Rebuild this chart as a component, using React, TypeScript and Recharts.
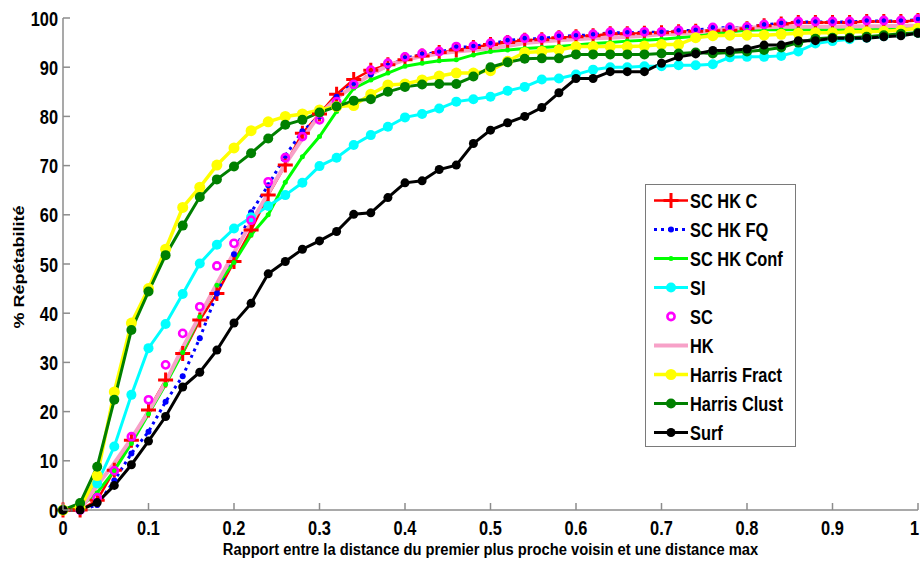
import React from "react";
import { LineChart, Line, XAxis, YAxis, Legend } from "recharts";

// distance ratio (x) sampled every 0.02
const ratios = [
  0, 0.02, 0.04, 0.06, 0.08, 0.1, 0.12, 0.14, 0.16, 0.18, 0.2, 0.22, 0.24, 0.26, 0.28, 0.3, 0.32,
  0.34, 0.36, 0.38, 0.4, 0.42, 0.44, 0.46, 0.48, 0.5, 0.52, 0.54, 0.56, 0.58, 0.6, 0.62, 0.64,
  0.66, 0.68, 0.7, 0.72, 0.74, 0.76, 0.78, 0.8, 0.82, 0.84, 0.86, 0.88, 0.9, 0.92, 0.94, 0.96,
  0.98, 1,
];

const scHkC = [
  0, 0, 2, 8.1, 14.2, 20.3, 26.4, 31.8, 38.6, 44, 50.5, 56.9, 64, 70.1, 76.6, 80.5, 84.5, 87.5,
  89.4, 90.5, 91.5, 92.3, 93, 93.5, 94, 94.6, 95, 95.5, 95.6, 96, 96.2, 96.4, 96.8, 96.8, 96.9, 97,
  97.2, 97.3, 97.4, 97.5, 97.8, 98.4, 98.8, 99.1, 99.1, 99.1, 99.1, 99.3, 99.3, 99.3, 99.5,
];
const scHkFq = [
  0, 0, 1, 6, 11.5, 15.9, 22, 27.2, 34.9, 44, 52, 60.5, 66, 72, 77, 80, 84, 86.8, 88.5, 90.3, 91.8,
  92.6, 93, 94, 94.2, 94.8, 95.4, 95.8, 95.8, 96.3, 96.4, 96.6, 97, 97, 97.1, 97.1, 97.4, 97.5, 98,
  98, 98.1, 98.6, 98.9, 99.2, 99.2, 99.2, 99.2, 99.4, 99.4, 99.4, 99.7,
];
const scHkConf = [
  0, 0.7, 3.5, 8, 13.5, 19.5, 25.5, 32, 39.3, 45.7, 50.3, 55.9, 60, 66.6, 71.8, 75.9, 81, 85.7,
  87.4, 88.8, 90.2, 90.8, 91.3, 91.5, 92.5, 93.2, 93.5, 93.8, 94, 94.2, 94.5, 94.8, 95, 95.3, 95.5,
  95.7, 96, 96.3, 96.8, 97.2, 97.5, 97.6, 97.6, 97.6, 97.6, 97.6, 97.6, 97.6, 97.7, 97.8, 98,
];
const si = [
  0, 0.5, 5.4, 12.9, 23.4, 32.9, 37.8, 43.9, 50.1, 53.9, 57.2, 59.5, 61.8, 64, 66.5, 69.9, 71.6,
  74.2, 76.2, 77.9, 79.8, 80.5, 81.6, 83, 83.5, 84, 85.2, 86, 87.5, 87.7, 88.5, 89.5, 90, 90, 90.2,
  90.2, 90.4, 90.4, 90.6, 92, 92.1, 92.1, 92.3, 93.2, 94.8, 95.3, 95.7, 96, 96.3, 96.6, 97,
];
const sc = [
  0, 0, 2.5, 8, 14.9, 22.4, 29.5, 35.9, 41.3, 49.6, 54.2, 58.9, 66.7, 71.6, 75.9, 79.3, 83, 86.5,
  89.4, 90.8, 92.1, 92.8, 93.2, 94.2, 94.3, 94.9, 95.5, 95.9, 95.9, 96.4, 96.5, 96.7, 97.1, 97.1,
  97.2, 97.2, 97.5, 97.6, 98.1, 98.1, 98.2, 98.7, 99, 99.3, 99.3, 99.3, 99.3, 99.5, 99.5, 99.5, 99.8,
];
const hk = [
  0, 0, 5, 9.5, 14.5, 20, 26, 33, 39.5, 46, 52.3, 58.4, 64.4, 70.3, 75.5, 80.3, 83.7, 86.2, 88.6,
  90.3, 91.5, 92.2, 92.8, 93.2, 93.5, 93.8, 94.3, 94.9, 95.2, 95.5, 95.7, 95.9, 96, 96.2, 96.4,
  96.7, 96.8, 97, 97.5, 97.8, 98, 98.1, 98.2, 98.2, 98.2, 98.2, 98.3, 98.3, 98.3, 98.4, 98.4,
];
const harrisFract = [
  0, 0.5, 7, 24, 38, 45, 53, 61.5, 65.6, 70.1, 73.6, 77.1, 78.9, 80, 80.5, 81.3, 82, 82.2, 84.5,
  86.4, 86.6, 87.4, 88.2, 88.8, 88.8, 89.3, 91.2, 93, 93.2, 93.5, 94.2, 94.2, 94.2, 94.2, 94.3, 94.6,
  94.6, 96, 96.4, 96.5, 96.5, 96.5, 96.7, 96.9, 97, 97, 97.2, 97.2, 97.3, 97.5, 97.9,
];
const harrisClust = [
  0, 1.4, 8.8, 22.4, 36.6, 44.4, 51.8, 57.8, 63.6, 67.2, 69.8, 72.5, 75.5, 78.3, 79.3, 80.8, 82,
  83.2, 83.5, 85, 86, 86.5, 86.6, 86.6, 88.1, 90, 91, 91.7, 91.8, 91.8, 92.6, 92.6, 92.6, 92.6, 92.6,
  92.8, 92.8, 93, 92.8, 93, 93.2, 93.5, 94, 95, 95.8, 96, 96, 96.2, 96.5, 96.8, 97,
];
const surf = [
  0, 0, 1.5, 5, 9.2, 14, 19, 25, 28, 32.5, 38, 42, 48, 50.5, 53, 54.7, 56.6, 60.1, 60.4, 63.5, 66.5,
  66.9, 69.2, 70.1, 74.5, 77.2, 78.7, 80, 81.8, 84.8, 87.7, 87.7, 89.1, 89.1, 89.1, 90.8, 92.1, 92.7,
  93.4, 93.4, 93.7, 94.5, 94.5, 95.4, 95.4, 95.9, 95.9, 95.9, 96.2, 96.4, 96.9,
];

const xTicks = [0, 0.1, 0.2, 0.3, 0.4, 0.5, 0.6, 0.7, 0.8, 0.9, 1];
const yTicks = [0, 10, 20, 30, 40, 50, 60, 70, 80, 90, 100];

const data = ratios.map((x, i) => ({
  x,
  scHkC: scHkC[i],
  scHkFq: scHkFq[i],
  scHkConf: scHkConf[i],
  si: si[i],
  sc: sc[i],
  hk: hk[i],
  harrisFract: harrisFract[i],
  harrisClust: harrisClust[i],
  surf: surf[i],
}));

const SANS = '"Liberation Sans", Arial, sans-serif';
const SQUEEZE = 0.78; // the original figure is horizontally compressed
const AXIS_GREY = "#8c8c8c";

type Marker = "plus" | "dot" | "ring" | "none";

const SERIES: {
  key: string;
  name: string;
  color: string;
  width: number;
  dash?: string;
  marker: Marker;
  r: number;
}[] = [
  { key: "scHkC", name: "SC HK C", color: "#ff0000", width: 2.5, marker: "plus", r: 7.5 },
  { key: "scHkFq", name: "SC HK FQ", color: "#0000ff", width: 3, dash: "3 4", marker: "dot", r: 3 },
  { key: "scHkConf", name: "SC HK Conf", color: "#00ff00", width: 3, marker: "dot", r: 2.5 },
  { key: "si", name: "SI", color: "#00ffff", width: 3, marker: "dot", r: 5 },
  { key: "sc", name: "SC", color: "#ff00ff", width: 0, marker: "ring", r: 3.6 },
  { key: "hk", name: "HK", color: "#f7a1c8", width: 4, marker: "none", r: 0 },
  { key: "harrisFract", name: "Harris Fract", color: "#ffff00", width: 3.5, marker: "dot", r: 5.5 },
  { key: "harrisClust", name: "Harris Clust", color: "#008000", width: 3, marker: "dot", r: 5 },
  { key: "surf", name: "Surf", color: "#000000", width: 3, marker: "dot", r: 4.5 },
];

function drawMarker(s: (typeof SERIES)[number], cx: number, cy: number, key?: string) {
  if (s.marker === "plus") {
    return (
      <path
        key={key}
        d={`M${cx - s.r},${cy}h${2 * s.r}M${cx},${cy - s.r}v${2 * s.r}`}
        stroke={s.color}
        strokeWidth={3}
        fill="none"
      />
    );
  }
  if (s.marker === "ring") {
    return <circle key={key} cx={cx} cy={cy} r={s.r} fill="none" stroke={s.color} strokeWidth={2.6} />;
  }
  if (s.marker === "dot") {
    return <circle key={key} cx={cx} cy={cy} r={s.r} fill={s.color} stroke="none" />;
  }
  return <g key={key} />;
}

const XTick = (p: any) => {
  const v = p.payload.value;
  const last = v === 1;
  return (
    <g>
      <line x1={p.x} x2={p.x} y1={p.y} y2={p.y - 7} stroke={AXIS_GREY} strokeWidth={1.5} />
      <text
        transform={`translate(${last ? p.x + 1 : p.x},${p.y + 25}) scale(${SQUEEZE},1)`}
        textAnchor={last ? "end" : "middle"}
        fontFamily={SANS}
        fontWeight="bold"
        fontSize={21}
        fill="#000"
      >
        {String(v)}
      </text>
    </g>
  );
};

const YTick = (p: any) => (
  <g>
    <line x1={p.x} x2={p.x + 7} y1={p.y} y2={p.y} stroke={AXIS_GREY} strokeWidth={1.5} />
    <text
      transform={`translate(${p.x - 5},${p.y + 7.5}) scale(${SQUEEZE},1)`}
      textAnchor="end"
      fontFamily={SANS}
      fontWeight="bold"
      fontSize={21}
      fill="#000"
    >
      {p.payload.value}
    </text>
  </g>
);

const XLabel = (p: any) => {
  const vb = p.viewBox;
  return (
    <text
      transform={`translate(${vb.x + vb.width / 2},${vb.y + 45}) scale(0.92,1)`}
      textAnchor="middle"
      fontFamily={SANS}
      fontWeight="bold"
      fontSize={16}
      fill="#000"
    >
      Rapport entre la distance du premier plus proche voisin et une distance max
    </text>
  );
};

const YLabel = (p: any) => {
  const vb = p.viewBox;
  const cx = 19;
  const cy = vb.y + vb.height / 2 + 3;
  return (
    <text
      transform={`translate(${cx},${cy}) rotate(-90) scale(1,0.82)`}
      textAnchor="middle"
      dominantBaseline="central"
      fontFamily={SANS}
      fontWeight="bold"
      fontSize={18}
      fill="#000"
    >
      % Répétabilité
    </text>
  );
};

const LegendBox = () => (
  <div
    style={{
      width: 151,
      height: 263,
      boxSizing: "border-box",
      border: "1.5px solid #7a7a7a",
      background: "#fff",
      paddingTop: 1,
    }}
  >
    {SERIES.map((s) => (
      <div key={s.key} style={{ display: "flex", alignItems: "center", height: 29 }}>
        <svg width={44} height={29} style={{ flex: "none" }}>
          {s.width > 0 && (
            <line
              x1={8}
              x2={42}
              y1={14.5}
              y2={14.5}
              stroke={s.color}
              strokeWidth={s.width}
              strokeDasharray={s.dash}
            />
          )}
          {drawMarker(s, 25, 14.5)}
        </svg>
        <span
          style={{
            display: "inline-block",
            fontFamily: SANS,
            fontWeight: "bold",
            fontSize: 21,
            color: "#000",
            whiteSpace: "nowrap",
            lineHeight: "29px",
            transform: `scaleX(${SQUEEZE})`,
            transformOrigin: "left center",
          }}
        >
          {s.name}
        </span>
      </div>
    ))}
  </div>
);

export default function App() {
  return (
    <div style={{ width: 920, height: 561, background: "#fff", position: "relative" }}>
      <style>{"body{margin:0;background:#fff}"}</style>
      <LineChart
        width={920}
        height={561}
        data={data}
        margin={{ top: 18, right: 2, left: 0, bottom: 0 }}
      >
        <XAxis
          type="number"
          dataKey="x"
          domain={[0, 1]}
          ticks={xTicks}
          interval={0}
          height={51}
          tickSize={0}
          tickMargin={0}
          tickLine={false}
          tick={<XTick />}
          axisLine={{ stroke: AXIS_GREY, strokeWidth: 1.5 }}
          label={<XLabel />}
        />
        <YAxis
          type="number"
          domain={[0, 100]}
          ticks={yTicks}
          interval={0}
          width={63}
          tickSize={0}
          tickMargin={0}
          tickLine={false}
          tick={<YTick />}
          axisLine={{ stroke: AXIS_GREY, strokeWidth: 1.5 }}
          label={<YLabel />}
        />
        <Legend
          layout="vertical"
          align="center"
          verticalAlign="middle"
          content={<LegendBox />}
          wrapperStyle={{ left: 645, top: 184, width: 151 }}
        />
        {SERIES.map((s) => (
          <Line
            key={s.key}
            type="linear"
            dataKey={s.key}
            name={s.name}
            stroke={s.width > 0 ? s.color : "none"}
            strokeWidth={s.width}
            strokeDasharray={s.dash}
            dot={
              s.marker === "none"
                ? false
                : (p: any) => drawMarker(s, p.cx, p.cy, `${s.key}-${p.index}`)
            }
            activeDot={false}
            isAnimationActive={false}
          />
        ))}
      </LineChart>
    </div>
  );
}
